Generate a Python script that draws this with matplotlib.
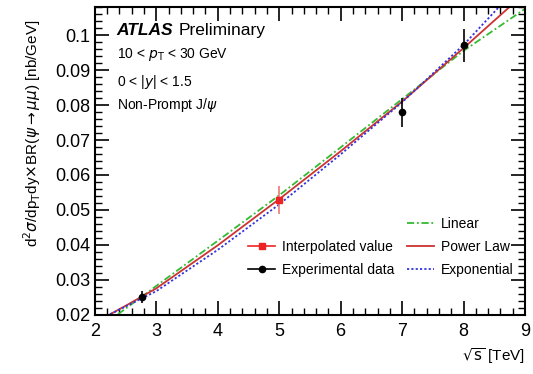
import numpy as np
import matplotlib
matplotlib.use("Agg")
import matplotlib.pyplot as plt
from matplotlib.ticker import MultipleLocator
from matplotlib.lines import Line2D

# measured points
exp_x = [2.76, 7.0, 8.0]
exp_y = [0.0251, 0.0779, 0.0971]
exp_err = [0.0016, 0.0042, 0.0047]

interp_x = [5.0]
interp_y = [0.0528]
interp_err = [0.0040]

# curves
curve_x = [2.0, 2.5, 3.0, 4.0, 5.0, 6.0, 7.0, 8.0, 9.0]
linear_y = [0.0153, 0.0218, 0.0283, 0.0412, 0.0542, 0.0679, 0.0817, 0.0955, 0.1075]
power_y = [0.0178, 0.0226, 0.0276, 0.0399, 0.0531, 0.0668, 0.0810, 0.0963, 0.1120]
expo_y = [0.0180, 0.0224, 0.0268, 0.0386, 0.0516, 0.0659, 0.0808, 0.0972, 0.1160]

plt.rcParams["font.family"] = ["Liberation Sans", "DejaVu Sans"]

fig = plt.figure(figsize=(5.33, 3.74), dpi=100)
ax = fig.add_axes([0.178, 0.158, 0.807, 0.823])

ax.plot(curve_x, linear_y, color="#33bb33", lw=1.3, ls=(0, (4, 1.5, 1, 1.5)))
ax.plot(curve_x, power_y, color="#cc3333", lw=1.3)
ax.plot(curve_x, expo_y, color="#3333dd", lw=1.3, ls=(0, (1.2, 1.2)))

ax.errorbar(exp_x, exp_y, yerr=exp_err, fmt="o", color="black", ms=4.5,
            elinewidth=1.2, capsize=0, zorder=5)
ax.errorbar(interp_x, interp_y, yerr=interp_err, fmt="s", color="#ee2222",
            ecolor="#ee7777", ms=5, elinewidth=1.2, capsize=0, zorder=6)

ax.set_xlim(2, 9)
ax.set_ylim(0.02, 0.108)
ax.xaxis.set_major_locator(MultipleLocator(1))
ax.xaxis.set_minor_locator(MultipleLocator(0.2))
ax.yaxis.set_major_locator(MultipleLocator(0.01))
ax.yaxis.set_minor_locator(MultipleLocator(0.002))
ax.yaxis.set_major_formatter(plt.FuncFormatter(lambda v, _: "0.1" if abs(v - 0.1) < 1e-9 else f"{v:.2f}"))
ax.tick_params(which="both", direction="in", top=True, right=True, labelsize=13)
ax.tick_params(axis="x", pad=6)
ax.tick_params(which="major", length=10, width=1.2)
ax.tick_params(which="minor", length=5, width=1.0)
for s in ax.spines.values():
    s.set_linewidth(1.5)

ax.set_xlabel(r"$\sqrt{\mathrm{s}}$ [TeV]", fontsize=11, loc="right")
ax.set_ylabel(r"d$^2\sigma$/dp$_\mathrm{T}$dy$\times$BR($\psi\rightarrow\mu\mu$) [nb/GeV]",
              fontsize=11, loc="top")
ax.yaxis.set_label_coords(-0.12, 0.96)

ax.text(0.051, 0.925, "ATLAS", transform=ax.transAxes, fontsize=12.5,
        fontweight="bold", fontstyle="italic", va="center")
ax.text(0.195, 0.925, "Preliminary", transform=ax.transAxes, fontsize=12.5, va="center")
ax.text(0.051, 0.845, r"10 < $p_\mathrm{T}$ < 30 GeV", transform=ax.transAxes, fontsize=10, va="center")
ax.text(0.051, 0.757, r"0 < |$y$| < 1.5", transform=ax.transAxes, fontsize=10, va="center")
ax.text(0.051, 0.682, r"Non-Prompt J/$\psi$", transform=ax.transAxes, fontsize=10, va="center")

left_handles = [
    Line2D([], [], color="#ee2222", marker="s", ms=5, lw=1.2),
    Line2D([], [], color="black", marker="o", ms=4.5, lw=1.2),
]
leg1 = ax.legend(left_handles, ["Interpolated value", "Experimental data"],
                 loc="lower left", bbox_to_anchor=(0.328, 0.083), frameon=False,
                 fontsize=10, handlelength=1.9, handletextpad=0.5, labelspacing=0.65)
ax.add_artist(leg1)

right_handles = [
    Line2D([], [], color="#33bb33", lw=1.3, ls=(0, (4, 1.5, 1, 1.5))),
    Line2D([], [], color="#cc3333", lw=1.3),
    Line2D([], [], color="#3333dd", lw=1.3, ls=(0, (1.2, 1.2))),
]
ax.legend(right_handles, ["Linear", "Power Law", "Exponential"],
          loc="lower left", bbox_to_anchor=(0.697, 0.083), frameon=False,
          fontsize=10, handlelength=1.9, handletextpad=0.5, labelspacing=0.65)

fig.savefig("out.png", dpi=100)
